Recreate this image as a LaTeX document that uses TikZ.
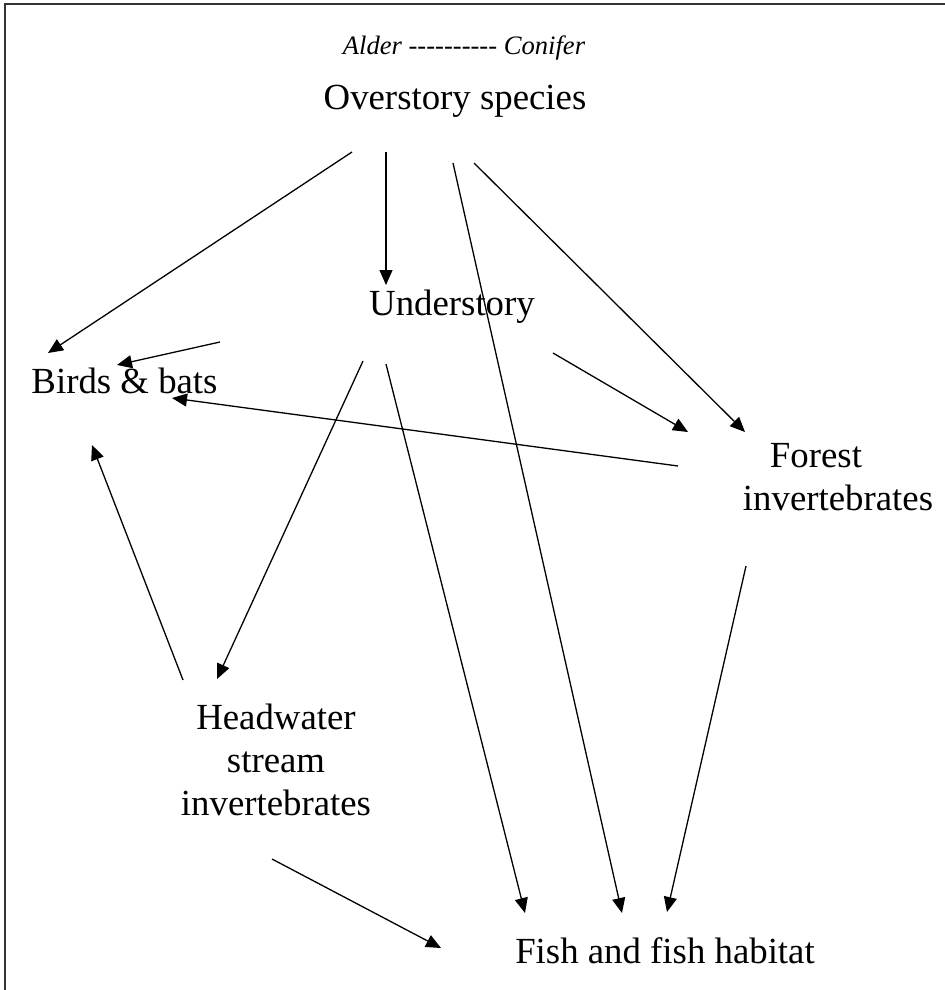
\documentclass[tikz,border=0pt]{standalone}
\usepackage{fontspec}
\setmainfont{Liberation Serif}
\newfontfamily\rawserif{Liberation Serif}[Ligatures=TeXOff]
\usetikzlibrary{arrows.meta}

\begin{document}
\begin{tikzpicture}[x=0.5pt, y=-0.5pt,
  label/.style={anchor=base, inner sep=0pt, font=\fontsize{18.4}{21.5}\selectfont},
  stack/.style={label, align=center},
  arr/.style={-{Triangle[length=7.5pt,width=6.5pt]}, line width=0.65pt},
  frame/.style={line width=1pt, black!80}
]
\useasboundingbox (0,0) rectangle (945,990);
\draw[frame] (4.5,990) -- (4.5,4.5) -- (945,4.5);

\node[label, font=\rawserif\fontsize{13.3}{16}\selectfont\itshape] (scale) at (464,55) {Alder ---------- Conifer};
\node[label] (over) at (455,110) {Overstory species};
\node[label] (under) at (452,315) {Understory};
\node[label] (birds) at (124.5,393) {Birds \& bats};
\node[label, align=left] (forest) at (838,510) {\hspace*{13.5pt}Forest\\invertebrates};
\node[stack] (head) at (276,815) {Headwater\\stream\\invertebrates};
\node[label] (fish) at (665,963) {Fish and fish habitat};

% arrow ends
\coordinate (over-b) at (352,152);  \coordinate (birds-o) at (48,353);
\coordinate (under-b) at (220,342); \coordinate (birds-u) at (117,365);
\coordinate (forest-b) at (678,466); \coordinate (birds-f) at (172,398);
\coordinate (head-b) at (183,680);  \coordinate (birds-h) at (92,445);
\coordinate (over-u) at (386,152);  \coordinate (under-o) at (386,285);
\coordinate (over-fi) at (453,163); \coordinate (fish-o) at (622,913);
\coordinate (over-fo) at (474,163); \coordinate (forest-o) at (745,432);
\coordinate (under-fo) at (553,353); \coordinate (forest-u) at (688,432);
\coordinate (under-h) at (363,361); \coordinate (head-u) at (217,679);
\coordinate (under-fi) at (386,364); \coordinate (fish-u) at (525,913);
\coordinate (forest-fi) at (746,566); \coordinate (fish-f) at (667,912);
\coordinate (head-fi) at (272,859); \coordinate (fish-h) at (441,948);

\draw[arr] (over-b) -- (birds-o);
\draw[arr] (under-b) -- (birds-u);
\draw[arr] (forest-b) -- (birds-f);
\draw[arr] (head-b) -- (birds-h);
\draw[arr] (over-u) -- (under-o);
\draw[arr] (over-fi) -- (fish-o);
\draw[arr] (over-fo) -- (forest-o);
\draw[arr] (under-fo) -- (forest-u);
\draw[arr] (under-h) -- (head-u);
\draw[arr] (under-fi) -- (fish-u);
\draw[arr] (forest-fi) -- (fish-f);
\draw[arr] (head-fi) -- (fish-h);

\end{tikzpicture}
\end{document}
